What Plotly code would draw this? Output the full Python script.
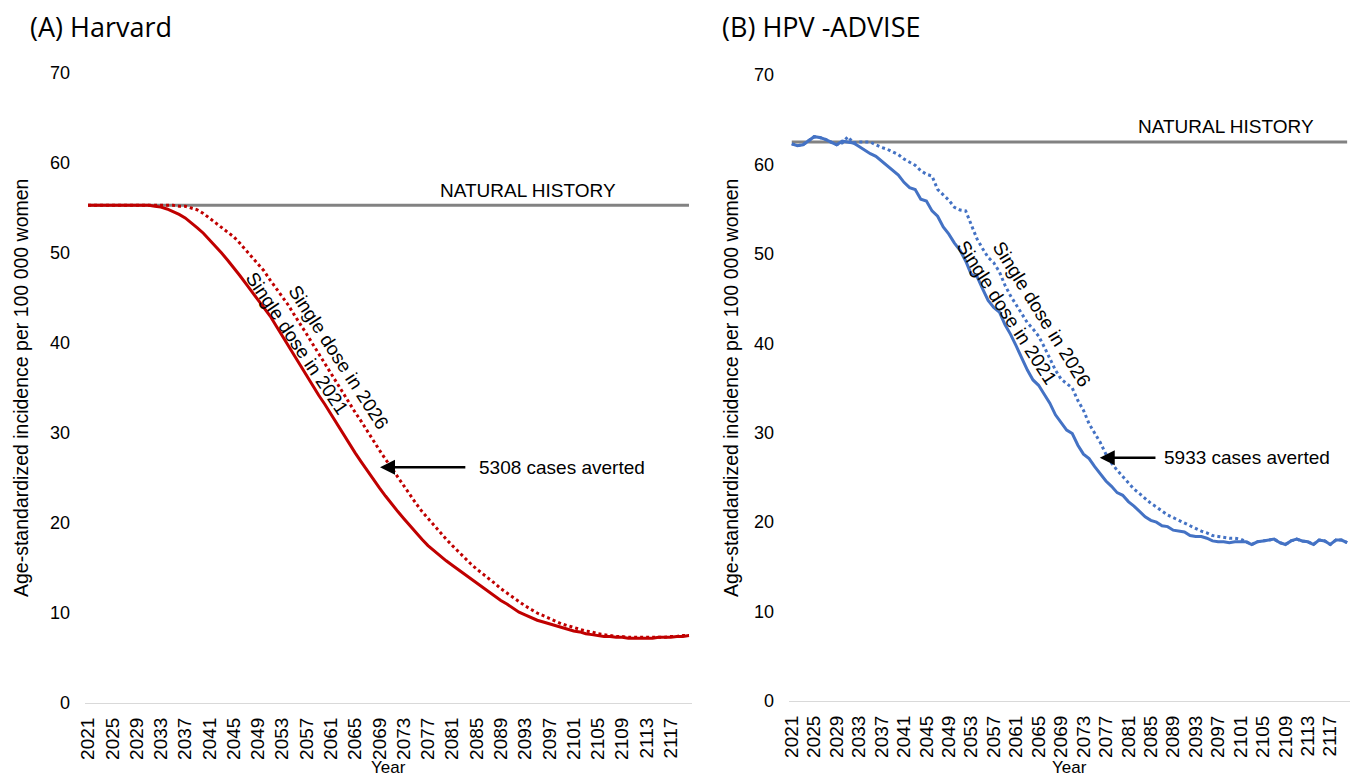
import plotly.graph_objects as go

years = list(range(2021, 2121))
tick_years = list(range(2021, 2121, 4))

harvard_nh_value = 55.3
advise_nh_value = 62.5

harvard_2021 = [
    55.3, 55.3, 55.3, 55.3, 55.3, 55.3, 55.3, 55.3, 55.3, 55.3,
    55.3, 55.2, 55.1, 54.9, 54.6, 54.3, 53.9, 53.4, 52.8, 52.2,
    51.5, 50.8, 50.0, 49.2, 48.4, 47.5, 46.6, 45.7, 44.8, 43.9,
    43.0, 41.9, 40.8, 39.7, 38.5, 37.4, 36.3, 35.2, 34.2, 33.2,
    32.1, 31.1, 30.0, 28.9, 27.8, 26.8, 25.8, 24.8, 23.9, 23.0,
    22.1, 21.3, 20.5, 19.7, 18.9, 18.2, 17.5, 16.9, 16.3, 15.8,
    15.3, 14.8, 14.3, 13.8, 13.3, 12.8, 12.3, 11.9, 11.4, 11.0,
    10.5, 10.1, 9.8, 9.5, 9.2, 9.0, 8.8, 8.6, 8.4, 8.2,
    8.0, 7.9, 7.7, 7.6, 7.5, 7.4, 7.4, 7.3, 7.3, 7.2,
    7.2, 7.2, 7.2, 7.2, 7.3, 7.3, 7.3, 7.4, 7.4, 7.5,
]

harvard_2026 = [
    55.3, 55.3, 55.3, 55.3, 55.3, 55.3, 55.3, 55.3, 55.3, 55.3,
    55.3, 55.3, 55.3, 55.3, 55.3, 55.2, 55.2, 55.0, 54.8, 54.4,
    53.9, 53.4, 52.9, 52.4, 51.8, 51.1, 50.3, 49.5, 48.8, 48.0,
    47.0, 46.1, 45.2, 44.2, 43.1, 42.1, 41.0, 39.9, 38.8, 37.7,
    36.6, 35.5, 34.4, 33.4, 32.3, 31.3, 30.2, 29.2, 28.1, 27.1,
    26.1, 25.1, 24.1, 23.1, 22.2, 21.3, 20.5, 19.7, 18.9, 18.2,
    17.5, 16.8, 16.1, 15.5, 14.9, 14.4, 13.8, 13.3, 12.7, 12.2,
    11.7, 11.2, 10.8, 10.4, 10.0, 9.7, 9.4, 9.1, 8.8, 8.6,
    8.4, 8.2, 8.0, 7.9, 7.7, 7.6, 7.5, 7.4, 7.4, 7.3,
    7.3, 7.3, 7.3, 7.3, 7.3, 7.3, 7.4, 7.4, 7.5, 7.5,
]

advise_2021 = [
    62.3, 62.1, 62.2, 62.7, 63.1, 63.0, 62.8, 62.5, 62.2, 62.6,
    62.5, 62.4, 62.0, 61.6, 61.2, 60.9, 60.4, 59.9, 59.3, 58.8,
    58.0, 57.4, 57.2, 56.1, 55.9, 54.8, 54.2, 53.0, 52.2, 51.2,
    50.4, 49.2, 47.7, 47.5, 46.1, 44.8, 44.0, 43.5, 42.1, 41.0,
    39.7, 38.4, 37.0, 35.9, 35.3, 34.3, 33.3, 32.0, 31.1, 30.3,
    29.9, 28.6, 27.6, 27.1, 26.2, 25.4, 24.6, 24.0, 23.3, 23.0,
    22.3, 21.8, 21.2, 20.6, 20.2, 20.0, 19.6, 19.5, 19.1, 19.0,
    18.9, 18.5, 18.4, 18.4, 18.2, 17.9, 17.8, 17.8, 17.7, 17.8,
    17.8, 17.8, 17.5, 17.8, 17.9, 18.0, 18.1, 17.7, 17.5, 17.9,
    18.1, 17.9, 17.8, 17.5, 18.0, 17.9, 17.5, 18.0, 18.0, 17.7,
]

advise_2026 = [
    62.3, 62.1, 62.2, 62.7, 63.1, 63.0, 62.8, 62.5, 62.2, 62.4,
    63.1, 62.4, 62.5, 62.5, 62.5, 62.2, 61.9, 61.7, 61.4, 61.1,
    60.6, 60.2, 59.9, 59.3, 58.9, 58.7, 57.2, 56.6, 56.0, 55.2,
    54.9, 54.8, 53.3, 51.7, 50.6, 49.6, 49.0, 48.0, 46.5, 45.3,
    44.3, 43.3, 42.3, 41.6, 40.8, 39.6, 38.3, 37.0, 36.0, 35.5,
    35.0, 33.6, 32.5, 31.0, 30.0, 28.9, 27.6, 26.6, 25.8, 25.1,
    24.5, 23.7, 23.2, 22.6, 22.1, 21.7, 21.2, 20.8, 20.5, 20.2,
    19.9, 19.6, 19.3, 19.0, 18.8, 18.5, 18.4, 18.3, 18.2, 18.2,
    18.1, 17.8, 17.5, 17.8, 17.9, 18.0, 18.1, 17.7, 17.5, 17.9,
    18.1, 17.9, 17.8, 17.5, 18.0, 17.9, 17.5, 18.0, 18.0, 17.7,
]

harvard_nh = [harvard_nh_value] * len(years)
advise_nh = [advise_nh_value] * len(years)

RED = "#c00000"
BLUE = "#4472c4"
GRAY = "#828282"
FONT = "Liberation Sans, Arial, sans-serif"

fig = go.Figure()

for xa, ya, nh, dotted, solid, col in [
    ("x", "y", harvard_nh, harvard_2026, harvard_2021, RED),
    ("x2", "y2", advise_nh, advise_2026, advise_2021, BLUE),
]:
    fig.add_trace(go.Scatter(x=years, y=nh, xaxis=xa, yaxis=ya, mode="lines",
                             line=dict(color=GRAY, width=3), hoverinfo="skip"))
    fig.add_trace(go.Scatter(x=years, y=dotted, xaxis=xa, yaxis=ya, mode="lines",
                             line=dict(color=col, width=3, dash="dot")))
    fig.add_trace(go.Scatter(x=years, y=solid, xaxis=xa, yaxis=ya, mode="lines",
                             line=dict(color=col, width=3)))

xcommon = dict(range=[2020.5, 2120.5], tickmode="array", tickvals=tick_years,
               ticktext=[str(t) for t in tick_years], tickangle=-90,
               showgrid=False, zeroline=False, showline=True, automargin=False,
               linecolor="#d9d9d9", linewidth=1, ticks="",
               tickfont=dict(family=FONT, size=19, color="black"),
               ticklabelstandoff=6)
ycommon = dict(range=[0, 70], tickmode="array", tickvals=list(range(0, 71, 10)),
               showgrid=False, zeroline=False, showline=False, ticks="", automargin=False,
               tickfont=dict(family=FONT, size=18, color="black"),
               ticklabelstandoff=14)

fig.update_layout(
    width=1354, height=777,
    margin=dict(l=0, r=0, t=0, b=0, autoexpand=False),
    paper_bgcolor="white", plot_bgcolor="white",
    showlegend=False,
    xaxis=dict(domain=[0.0628, 0.5111], anchor="y", **xcommon),
    yaxis=dict(domain=[0.0952, 0.906], anchor="x", **ycommon),
    xaxis2=dict(domain=[0.5827, 0.9970], anchor="y2", **xcommon),
    yaxis2=dict(domain=[0.0978, 0.9035], anchor="x2", **ycommon),
)

ann = []
txt = dict(family=FONT, size=19, color="black")
# panel titles
ann.append(dict(text="(A) Harvard", xref="paper", yref="paper", x=28 / 1354, y=1 - 26 / 777,
                xanchor="left", yanchor="middle", showarrow=False,
                font=dict(family="Open Sans, sans-serif", size=27, color="black")))
ann.append(dict(text="(B) HPV -ADVISE", xref="paper", yref="paper", x=720 / 1354, y=1 - 26 / 777,
                xanchor="left", yanchor="middle", showarrow=False,
                font=dict(family="Open Sans, sans-serif", size=27, color="black")))
# axis titles
for xpx, ypx_center in [(21, 388), (731, 388)]:
    ann.append(dict(text="Age-standardized incidence per 100 000 women", xref="paper", yref="paper",
                    x=xpx / 1354, y=1 - ypx_center / 777, textangle=-90, showarrow=False,
                    xanchor="center", yanchor="middle",
                    font=dict(family=FONT, size=19.5, color="black")))
for xpx in [388, 1069]:
    ann.append(dict(text="Year", xref="paper", yref="paper", x=xpx / 1354, y=1 - 767 / 777,
                    showarrow=False, xanchor="center", yanchor="middle",
                    font=dict(family=FONT, size=17, color="black")))

# natural history labels
ann.append(dict(text="NATURAL HISTORY", xref="x", yref="y", x=2093.5, y=harvard_nh_value,
                yshift=2, xanchor="center", yanchor="bottom", showarrow=False, font=txt))
ann.append(dict(text="NATURAL HISTORY", xref="x2", yref="y2", x=2098.4, y=advise_nh_value,
                yshift=3, xanchor="center", yanchor="bottom", showarrow=False, font=txt))

# curve labels
ann.append(dict(text="Single dose in 2021", xref="x", yref="y", x=2055.5, y=40.0, textangle=56,
                showarrow=False, font=txt))
ann.append(dict(text="Single dose in 2026", xref="x", yref="y", x=2062.3, y=38.4, textangle=57,
                showarrow=False, font=txt))
ann.append(dict(text="Single dose in 2021", xref="x2", yref="y2", x=2059.3, y=43.4, textangle=57,
                showarrow=False, font=txt))
ann.append(dict(text="Single dose in 2026", xref="x2", yref="y2", x=2065.6, y=43.2, textangle=58,
                showarrow=False, font=txt))

# arrows + text
ann.append(dict(text="", xref="x", yref="y", x=2069.1, y=26.2, axref="x", ayref="y",
                ax=2083.4, ay=26.2, showarrow=True, arrowhead=2, arrowsize=1.2,
                arrowwidth=2.5, arrowcolor="black"))
ann.append(dict(text="5308 cases averted", xref="x", yref="y", x=2085.1, y=26.2,
                xanchor="left", yanchor="middle", showarrow=False, font=txt))
ann.append(dict(text="", xref="x2", yref="y2", x=2075.9, y=27.2, axref="x2", ayref="y2",
                ax=2086.1, ay=27.2, showarrow=True, arrowhead=2, arrowsize=1.2,
                arrowwidth=2.5, arrowcolor="black"))
ann.append(dict(text="5933 cases averted", xref="x2", yref="y2", x=2087.0, y=27.2,
                xanchor="left", yanchor="middle", showarrow=False, font=txt))

fig.update_layout(annotations=ann)

fig.write_html("out.html", config={"displayModeBar": False},
               post_script="document.body.style.margin='0';document.body.style.overflow='hidden';")
